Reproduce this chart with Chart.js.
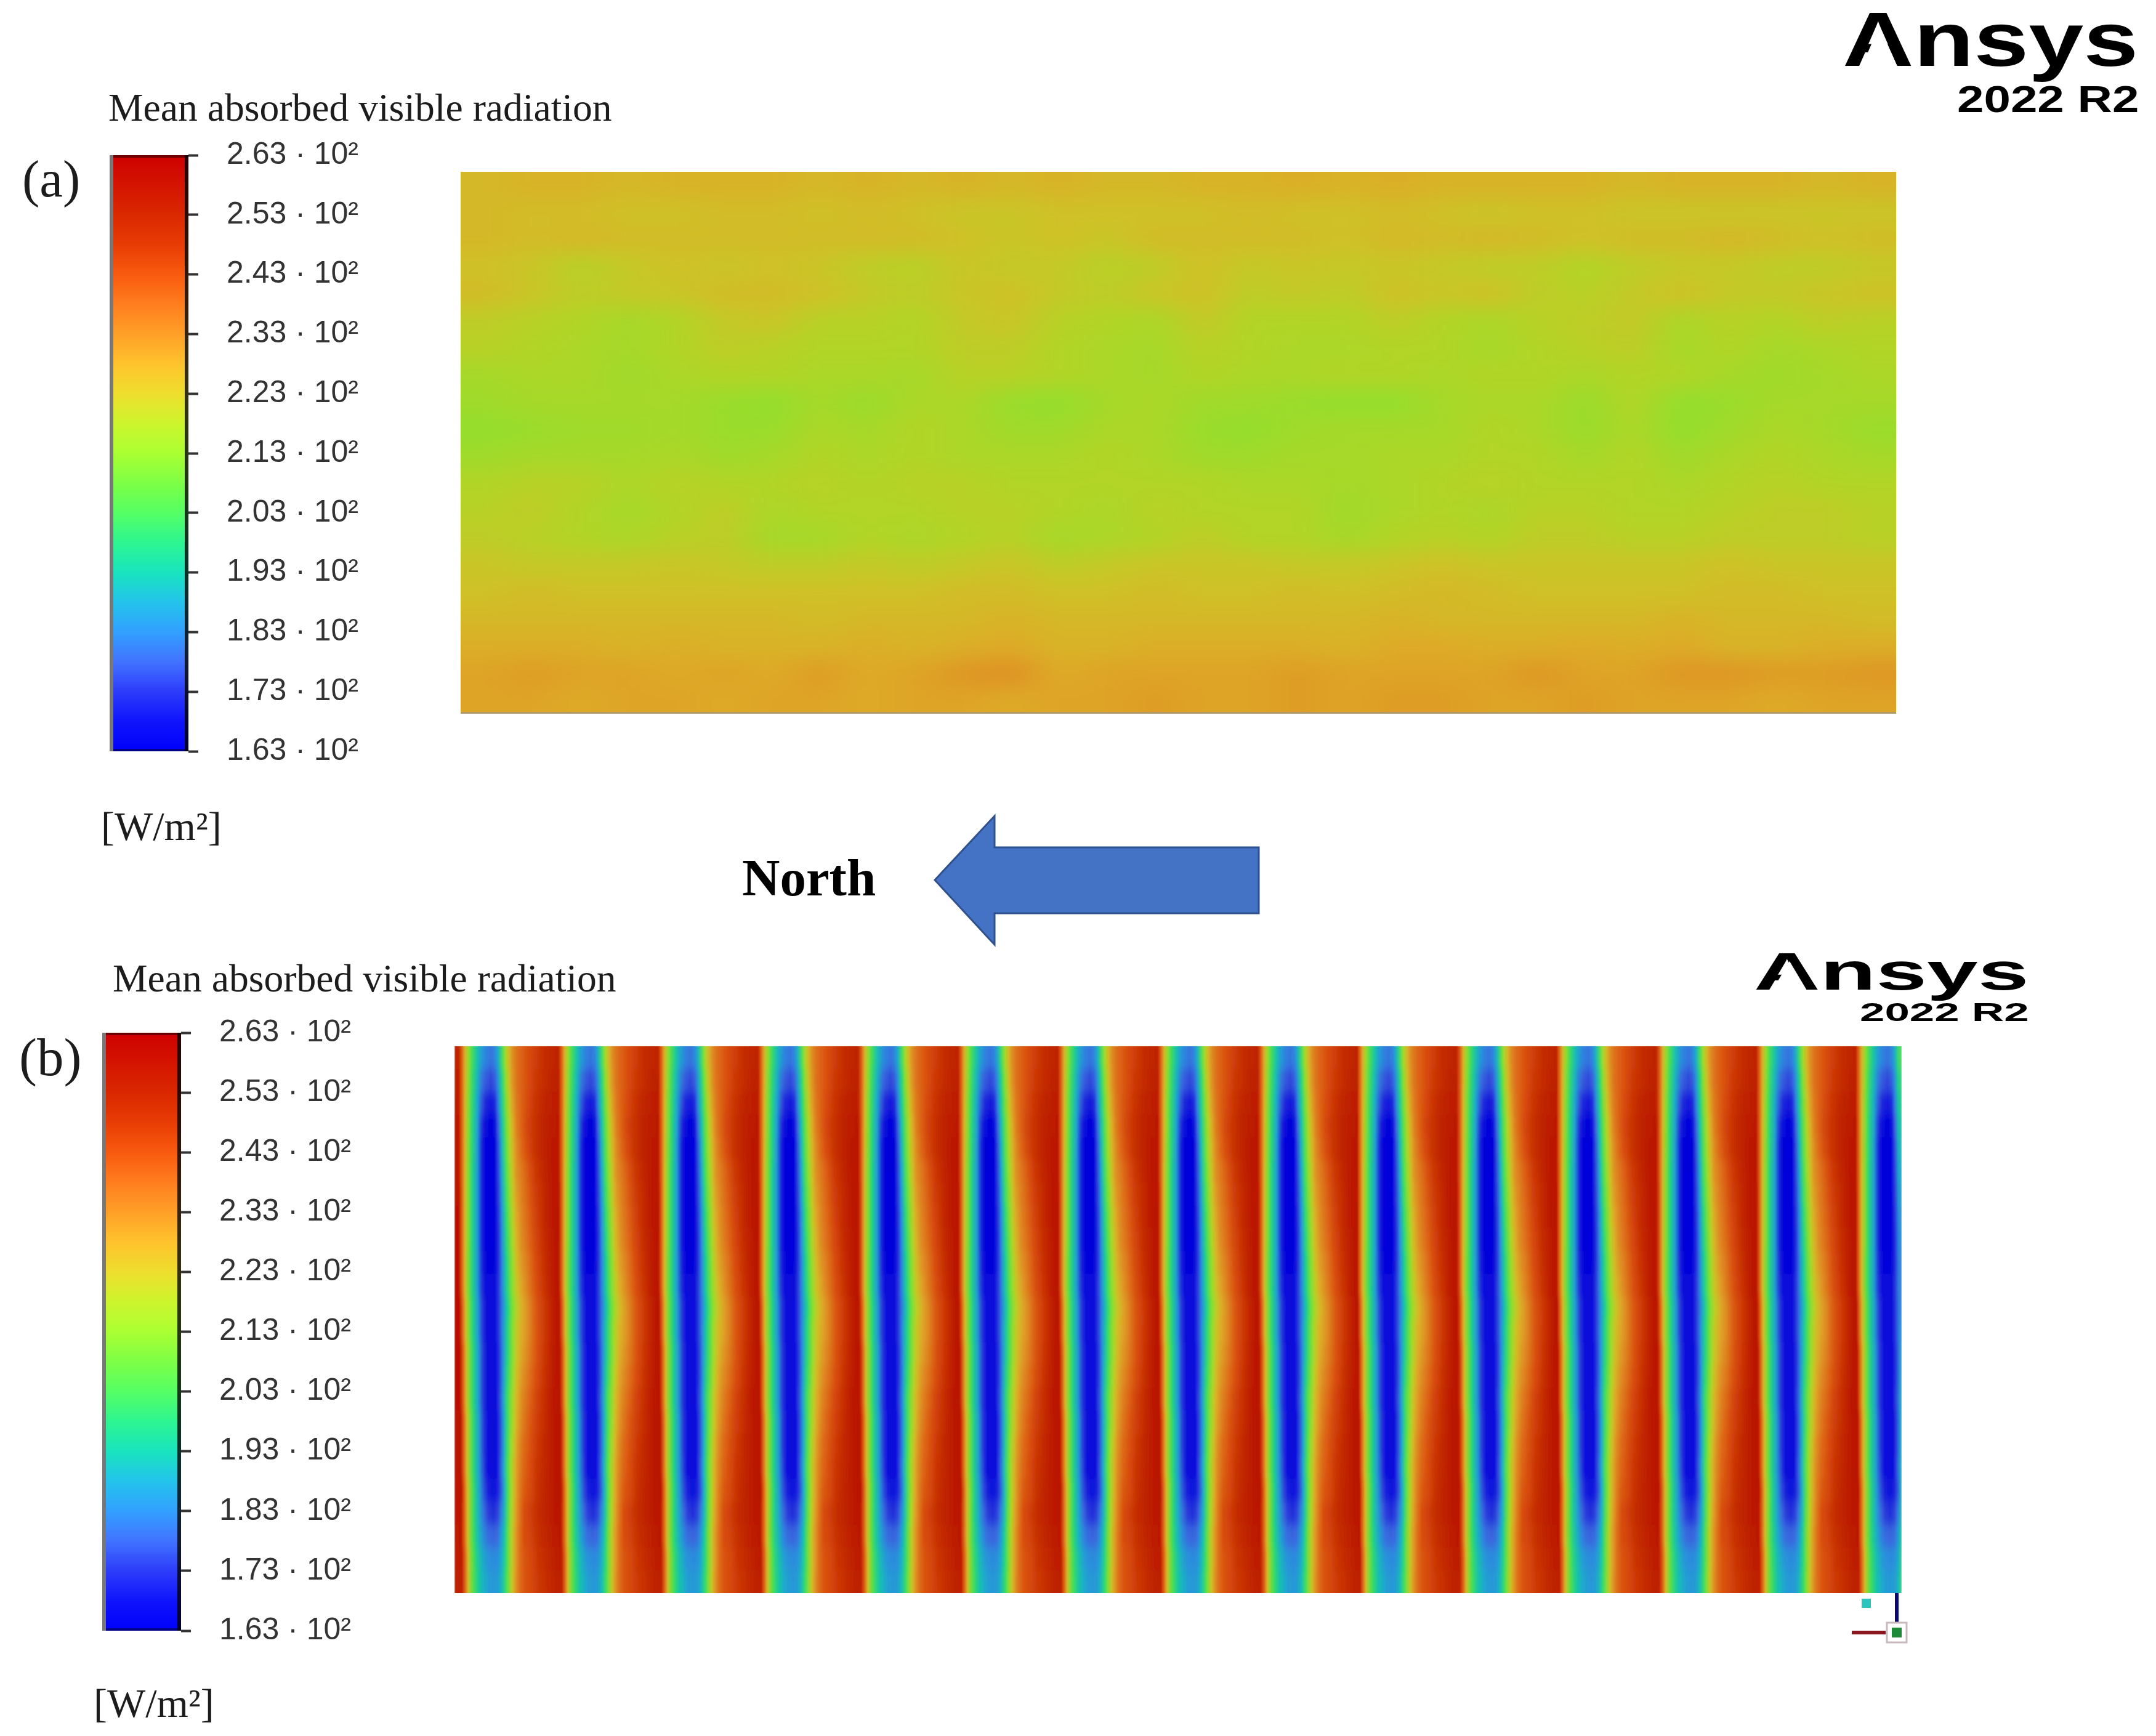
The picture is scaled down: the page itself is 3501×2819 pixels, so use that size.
<!DOCTYPE html>
<html>
<head>
<meta charset="utf-8">
<title>Mean absorbed visible radiation</title>
<script src="https://cdn.jsdelivr.net/npm/chart.js@4"></script>
<style>
    html, body { margin: 0; padding: 0; background: #fff; }
    #page { position: relative; width: 3501px; height: 2819px; overflow: hidden; background: #fff; }
    .txt { position: absolute; white-space: nowrap; line-height: 1em; color: #1c1c1c; transform-origin: 0 0; }
    .serif { font-family: "Liberation Serif", serif; }
    .logo { font-family: "Liberation Sans", sans-serif; font-weight: 700; color: #000; }
    .wrap { position: absolute; overflow: hidden; }
    canvas { position: absolute; display: block; }
</style>
</head>
<body>
<div id="page">
    <svg width="0" height="0" style="position:absolute">
        <filter id="softRows" x="-2%" y="-5%" width="104%" height="110%"><feGaussianBlur stdDeviation="1.2 9"></feGaussianBlur></filter>
    </svg>

    <div class="txt serif" style="left:176px;top:143px;font-size:63.6px">Mean absorbed visible radiation</div>
    <div class="txt serif" style="left:36px;top:248px;font-size:85px">(a)</div>
    <canvas id="legendA" width="404" height="1120" style="left:178px;top:176px"></canvas>
    <div class="txt serif" style="left:164px;top:1309px;font-size:66px">[W/m²]</div>
    <div class="wrap" style="left:748px;top:279px;width:2331px;height:880px">
        <canvas id="panelA" width="2411" height="968" style="left:-40px;top:-44px;filter:blur(16px)"></canvas>
        <div style="position:absolute;left:0;bottom:0;width:100%;height:3px;background:#b09a68"></div>
    </div>
    <div class="txt logo" style="left:2992px;top:1px;font-size:125px;transform:scaleX(1.28)">Ansys</div>
    <div class="txt logo" style="left:3178px;top:130px;font-size:62px;transform:scaleX(1.26)">2022 R2</div>
    <div class="txt logo" style="left:2848px;top:1534px;font-size:86px;transform:scaleX(1.73)">Ansys</div>
    <div class="txt logo" style="left:3020px;top:1622px;font-size:43px;transform:scaleX(1.69)">2022 R2</div>

    <div class="txt serif" style="left:1205px;top:1383px;font-size:85px;font-weight:700;color:#000">North</div>
    <svg style="position:absolute;left:0;top:0" width="3501" height="2819">
        <polygon points="1518,1429 1615,1325 1615,1376 2044,1376 2044,1483 1615,1483 1615,1534" fill="#4472c4" stroke="#2f528f" stroke-width="3"></polygon>
        <rect x="3023" y="2596" width="15" height="15" fill="#2cc4bd"></rect>
        <line x1="3080" y1="2575" x2="3080" y2="2634" stroke="#0a0a70" stroke-width="6"></line>
        <line x1="3007" y1="2651" x2="3062" y2="2651" stroke="#8a1620" stroke-width="6"></line>
        <rect x="3064" y="2635" width="32" height="32" fill="#fff" stroke="#c9b8c0" stroke-width="3"></rect>
        <rect x="3072" y="2643" width="16" height="16" fill="#1c8a38"></rect>
        <!-- the logo A has no crossbar -->
        <polygon points="3023,108 3081,108 3052,42" fill="#fff"></polygon>
        <polygon points="2878,1608 2934,1608 2906,1561" fill="#fff"></polygon>
    </svg>

    <div class="txt serif" style="left:183px;top:1557px;font-size:63.6px">Mean absorbed visible radiation</div>
    <div class="txt serif" style="left:31px;top:1673px;font-size:87px">(b)</div>
    <canvas id="legendB" width="404" height="1123" style="left:166px;top:1601px"></canvas>
    <div class="txt serif" style="left:152px;top:2733px;font-size:66px">[W/m²]</div>
    <div class="wrap" style="left:738px;top:1699px;width:2350px;height:888px">
        <canvas id="panelB" width="2350" height="962" style="left:0;top:-37px;filter:url(#softRows)"></canvas>
    </div>
</div>

<script>
// colour legend
var tickValues = [163, 173, 183, 193, 203, 213, 223, 233, 243, 253, 263];
var tickLabels = ['1.63 · 10²', '1.73 · 10²', '1.83 · 10²', '1.93 · 10²', '2.03 · 10²', '2.13 · 10²',
    '2.23 · 10²', '2.33 · 10²', '2.43 · 10²', '2.53 · 10²', '2.63 · 10²'];
var rampValues = [163, 168, 173, 178, 183, 188, 193, 198, 203, 208, 213, 218, 223, 228, 233, 238, 243, 248, 253, 258, 263];
var rampColours = [[0, 0, 250], [15, 20, 252], [45, 60, 250], [65, 115, 255], [50, 160, 255], [35, 195, 235], [25, 228, 190],
    [45, 245, 145], [85, 255, 100], [125, 255, 70], [170, 255, 50], [205, 245, 45], [238, 222, 45], [255, 195, 45],
    [255, 160, 40], [255, 125, 30], [248, 90, 15], [232, 60, 5], [218, 40, 0], [212, 20, 0], [205, 0, 0]];

// panel (a): absorbed radiation, one row per line from top to bottom, 30 cells wide, W/m2
var panelAValues = [
    [225,226,226,225,226,226,226,225,226,225,226,225,226,225,225,226,226,227,226,227,226,226,226,226,225,226,226,226,225,226],
    [225,224,224,223,223,224,224,223,224,223,222,222,223,223,223,223,224,223,223,224,223,222,223,223,222,222,222,222,222,222],
    [225,224,225,224,224,224,224,224,224,224,223,222,223,222,224,224,224,224,223,225,224,225,224,223,224,224,225,224,223,224],
    [223,222,219,221,223,222,223,222,220,219,222,221,221,219,220,223,221,222,221,222,221,220,220,218,220,221,221,220,220,221],
    [224,222,220,221,222,224,224,223,221,220,222,223,221,220,222,223,220,221,220,223,222,223,220,219,221,223,221,221,222,223],
    [220,219,218,216,218,221,222,219,219,218,221,222,219,218,217,221,218,218,218,220,218,217,219,220,221,217,219,218,220,219],
    [219,218,217,216,218,220,219,218,218,218,220,220,218,217,216,219,218,217,217,218,218,216,218,219,220,216,218,216,217,218],
    [216,217,217,215,217,218,218,217,217,216,219,219,218,217,216,218,217,217,218,218,217,218,218,217,218,218,216,215,216,217],
    [215,216,216,216,216,214,213,216,214,217,217,214,213,216,217,215,215,214,213,213,216,217,217,214,218,213,214,216,216,216],
    [213,214,215,215,216,214,214,217,216,218,217,215,215,217,217,214,213,215,216,216,216,218,217,214,217,213,215,217,216,214],
    [215,216,216,216,217,215,216,218,217,218,217,217,217,218,217,215,215,216,216,217,217,218,218,216,218,215,217,218,217,216],
    [218,219,219,217,219,218,218,219,218,219,219,218,218,218,218,218,217,217,216,217,218,219,218,218,218,217,218,219,218,218],
    [219,220,218,216,218,220,217,218,218,218,219,219,218,217,219,218,218,218,215,217,218,217,219,219,218,218,219,220,220,219],
    [220,219,218,217,219,220,216,216,218,217,218,219,216,217,218,220,218,218,216,218,219,218,220,220,219,219,220,220,220,219],
    [222,221,221,221,222,221,220,220,221,220,221,222,220,221,222,222,222,221,221,222,223,222,222,222,222,222,223,222,222,222],
    [223,224,223,223,223,223,223,223,223,223,224,224,223,223,224,223,223,224,223,224,225,224,223,223,223,223,224,224,223,223],
    [225,225,225,225,225,225,225,224,225,225,225,226,225,225,225,225,225,225,225,226,225,225,225,225,225,226,225,225,225,224],
    [227,227,227,226,227,226,226,226,227,226,227,228,226,226,227,227,227,227,226,228,228,227,227,228,227,228,226,226,227,227],
    [229,230,229,229,228,229,228,230,228,229,231,232,228,229,229,229,229,230,229,229,229,229,231,229,229,231,231,230,230,231],
    [229,229,228,229,229,228,229,229,228,229,229,228,229,229,230,229,229,230,229,230,230,229,229,230,229,229,229,228,229,229]
];

// panel (b): x of the sharp red edge of each stripe (picture px, first one sits off the panel)
var stripeEdges = [585, 747, 909, 1071, 1233, 1396, 1558, 1720, 1882, 2045, 2205, 2368, 2529, 2692, 2854, 3015];
// sideways drift of those edges per row, top to bottom
var rowDrift = [0, 0, 0, 0, 0, 0, 0, 0, 0, 0, 0, 1, 1, 2, 2, 2, 3, 3, 3, 4, 4, 4, 5, 5];
// distance behind the edge at which each row below is read
var stripeOffsets = [0, 3, 8, 14, 20, 28, 36, 42, 50, 56, 62, 68, 74, 80, 86, 92, 100, 110, 122, 136, 150, 160];
var panelBValues = [
    [246,240,226,212,202,192,185,182,180,182,189,202,216,226,233,237,240,243,246,250,252,253],
    [246,240,226,211,200,190,180,177,175,177,185,198,212,224,232,237,240,243,247,250,253,254],
    [246,240,225,210,199,188,176,171,169,171,182,195,209,221,230,236,240,244,248,252,254,255],
    [247,240,225,210,198,187,172,166,164,166,178,192,206,218,228,235,240,245,249,253,255,256],
    [247,240,225,209,198,186,170,164,163,164,176,190,204,216,226,233,239,244,249,253,256,257],
    [247,240,224,209,197,186,170,164,163,164,175,188,202,213,224,232,236,241,247,252,256,257],
    [248,240,224,209,197,186,170,164,163,164,174,186,200,211,222,230,235,240,246,251,256,257],
    [248,240,224,209,197,186,170,164,163,164,173,184,198,209,220,228,234,239,245,251,256,258],
    [248,240,224,209,197,186,170,164,163,164,172,183,196,207,218,226,233,238,244,250,255,258],
    [248,240,224,208,197,186,171,165,164,165,172,182,194,205,215,224,231,236,243,249,255,258],
    [248,240,224,208,197,186,172,167,166,167,173,182,193,204,213,222,229,235,242,248,255,258],
    [248,240,224,208,197,186,173,168,167,168,174,182,192,203,212,220,227,233,241,247,254,258],
    [248,240,224,208,197,186,173,168,167,168,174,183,194,204,214,222,228,233,241,247,254,258],
    [248,240,224,208,197,186,173,168,167,168,174,184,196,206,216,224,230,235,242,248,255,258],
    [248,240,224,208,197,186,173,168,167,168,174,185,198,208,218,226,232,237,243,249,255,258],
    [248,240,224,208,197,186,173,168,167,168,175,186,200,210,220,228,234,239,245,250,256,258],
    [248,240,224,208,197,186,173,168,167,168,175,187,201,212,222,230,236,241,246,251,256,258],
    [248,240,224,208,197,186,173,168,167,168,175,187,202,214,224,232,238,242,247,252,256,258],
    [248,240,224,208,197,186,174,168,167,168,176,188,203,215,226,233,239,243,248,252,256,258],
    [248,240,224,208,197,186,175,170,168,170,176,189,204,217,228,235,241,244,249,253,256,258],
    [247,240,224,208,197,187,178,174,172,174,180,190,205,218,229,236,243,246,250,253,256,257],
    [247,240,224,208,198,189,182,179,178,179,184,193,207,220,230,237,243,245,249,252,255,256],
    [246,240,224,208,199,191,186,184,183,184,188,197,209,222,231,238,242,244,248,251,254,255],
    [246,240,224,208,200,192,188,186,185,186,190,199,210,223,232,238,242,244,247,250,253,254]
];

var plotShade = 0.87;

function valueColour(v, shade) {
    var i = 0;
    while (i < rampValues.length - 2 && v > rampValues[i + 1]) i++;
    var t = (v - rampValues[i]) / (rampValues[i + 1] - rampValues[i]);
    t = Math.max(0, Math.min(1, t));
    var a = rampColours[i], b = rampColours[i + 1];
    var c = [0, 1, 2].map(function (k) { return Math.round((a[k] + (b[k] - a[k]) * t) * shade); });
    return 'rgb(' + c.join(',') + ')';
}

// left to right gradient for one row: xs and vals are read in x scale units
function rowGradient(chart, xs, vals) {
    var sc = chart.scales.x;
    var g = chart.ctx.createLinearGradient(sc.left, 0, sc.right, 0);
    for (var i = 0; i < xs.length; i++) {
        var p = (xs[i] - sc.min) / (sc.max - sc.min);
        if (p >= 0 && p <= 1) g.addColorStop(p, valueColour(vals[i], plotShade));
    }
    return g;
}

function heatChart(id, rowCount, xMin, xMax, stopsFor) {
    var labels = [], bars = [];
    for (var r = 0; r < rowCount; r++) {
        labels.push('row ' + r);
        bars.push([xMin, xMax]);
    }
    return new Chart(document.getElementById(id), {
        type: 'bar',
        data: {
            labels: labels,
            datasets: [{
                data: bars,
                barPercentage: 1,
                categoryPercentage: 1,
                borderWidth: 0,
                backgroundColor: function (ctx) {
                    if (!ctx.chart.chartArea || ctx.dataIndex === undefined) return '#fff';
                    var s = stopsFor(ctx.dataIndex);
                    return rowGradient(ctx.chart, s.xs, s.vals);
                }
            }]
        },
        options: {
            indexAxis: 'y',
            responsive: false,
            animation: false,
            devicePixelRatio: 1,
            layout: { padding: 0 },
            plugins: { legend: { display: false }, tooltip: { enabled: false } },
            scales: {
                x: { type: 'linear', display: false, min: xMin, max: xMax },
                y: { display: false }
            }
        }
    });
}

// rows are doubled at both ends so the soft edge of the picture stays inside the crop
function clampRow(list, r) {
    return list[Math.max(0, Math.min(list.length - 1, r - 1))];
}

var cellWidth = 2331 / 30;
heatChart('panelA', panelAValues.length + 2, -40, 2371, function (r) {
    var vals = clampRow(panelAValues, r);
    return { xs: vals.map(function (v, c) { return (c + 0.5) * cellWidth; }), vals: vals };
});

heatChart('panelB', panelBValues.length + 2, 738, 3088, function (r) {
    var row = clampRow(panelBValues, r), drift = clampRow(rowDrift, r);
    var xs = [], vals = [];
    stripeEdges.forEach(function (edge) {
        stripeOffsets.forEach(function (d, j) {
            xs.push(edge + drift + d);
            vals.push(row[j]);
        });
    });
    return { xs: xs, vals: vals };
});

var legendFrame = {
    id: 'legendFrame',
    afterDatasetsDraw: function (chart) {
        var a = chart.chartArea, c = chart.ctx;
        c.save();
        c.fillStyle = 'rgba(0,0,0,0.45)';
        c.fillRect(a.left, a.top, a.right - a.left, 4);
        c.fillRect(a.left, a.bottom - 4, a.right - a.left, 4);
        c.fillStyle = '#777';
        c.fillRect(a.left, a.top, 6, a.bottom - a.top);
        c.fillStyle = 'rgba(0,0,0,0.78)';
        c.fillRect(a.right - 6, a.top, 6, a.bottom - a.top);
        c.restore();
    }
};

function legendChart(id) {
    return new Chart(document.getElementById(id), {
        type: 'bar',
        data: {
            labels: ['W/m²'],
            datasets: [{
                data: [[tickValues[0], tickValues[tickValues.length - 1]]],
                barPercentage: 1,
                categoryPercentage: 1,
                borderWidth: 0,
                backgroundColor: function (ctx) {
                    var a = ctx.chart.chartArea, sc = ctx.chart.scales.y;
                    if (!a) return '#fff';
                    var g = ctx.chart.ctx.createLinearGradient(0, sc.bottom, 0, sc.top);
                    rampValues.forEach(function (v) {
                        g.addColorStop((v - sc.min) / (sc.max - sc.min), valueColour(v, 1));
                    });
                    return g;
                }
            }]
        },
        options: {
            responsive: false,
            animation: false,
            devicePixelRatio: 1,
            layout: { padding: 0 },
            plugins: { legend: { display: false }, tooltip: { enabled: false } },
            scales: {
                x: { display: false },
                y: {
                    position: 'right',
                    min: tickValues[0],
                    max: tickValues[tickValues.length - 1],
                    afterFit: function (scale) { scale.width = 276; },
                    afterBuildTicks: function (scale) {
                        scale.ticks = tickValues.map(function (v) { return { value: v }; });
                    },
                    border: { display: false },
                    grid: { drawOnChartArea: false, tickLength: 16, tickColor: '#333', tickWidth: 4 },
                    ticks: {
                        autoSkip: false,
                        padding: 46,
                        color: '#333',
                        font: { family: '"Liberation Sans"', size: 50 },
                        callback: function (v) { return tickLabels[tickValues.indexOf(v)]; }
                    }
                }
            }
        },
        plugins: [legendFrame]
    });
}

legendChart('legendA');
legendChart('legendB');
</script>
</body>
</html>
